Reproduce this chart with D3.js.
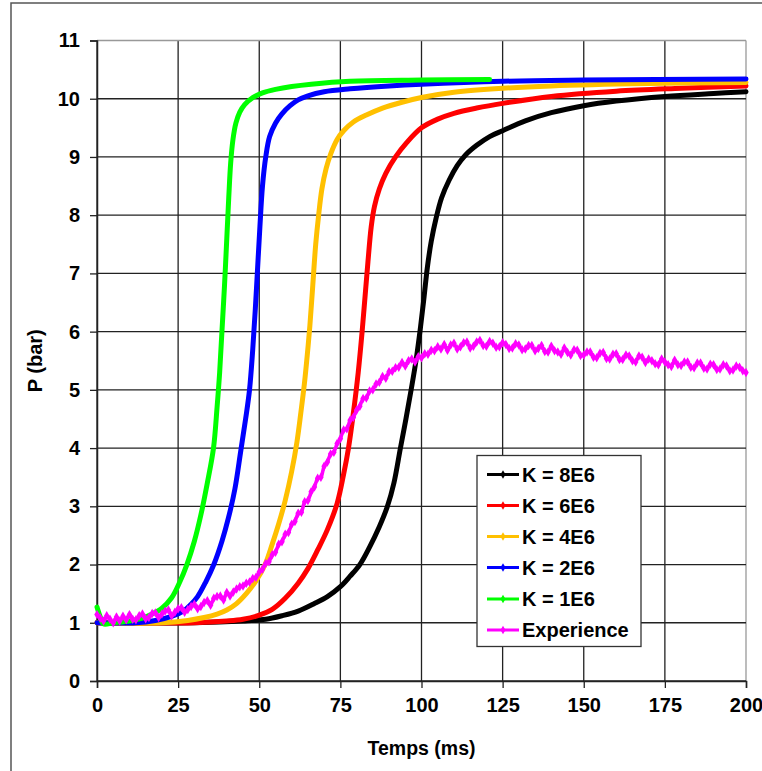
<!DOCTYPE html>
<html>
<head>
<meta charset="utf-8">
<script src="https://cdn.jsdelivr.net/npm/d3@7"></script>
<style>
  html, body { margin: 0; padding: 0; background: #fff; }
  svg { display: block; font-family: "Liberation Sans", Arial, sans-serif; }
</style>
</head>
<body>
<svg id="chart" width="762" height="771"></svg>
<script>
// ---------- DATA ----------
const xTicks = [0, 25, 50, 75, 100, 125, 150, 175, 200];
const yTicks = [0, 1, 2, 3, 4, 5, 6, 7, 8, 9, 10, 11];
const xTitle = "Temps (ms)";
const yTitle = "P (bar)";

const seriesNames = ["K = 8E6", "K = 6E6", "K = 4E6", "K = 2E6", "K = 1E6", "Experience"];
const seriesColors = ["#000000", "#ff0000", "#ffc000", "#0000ff", "#00ff00", "#ff00ff"];

// [time ms, pressure bar]
const k8E6 = [[0,1.0],[30,1.0],[45,1.03],[52,1.06],[57,1.12],[62,1.2],[67,1.33],[71,1.45],[75,1.62],
  [78,1.8],[81,2.0],[84,2.3],[87,2.65],[89.5,3.0],[91.5,3.4],[93.5,4.0],[95.2,4.5],[96.8,5.0],
  [98.3,5.5],[99.7,6.08],[100.8,6.6],[101.8,7.1],[103,7.55],[104.5,7.95],[106.2,8.3],[108.5,8.6],
  [111,8.85],[113.5,9.03],[117,9.2],[121,9.35],[125,9.45],[132,9.62],[140,9.76],[150,9.88],
  [160,9.96],[175,10.04],[190,10.09],[200,10.12]];
const k6E6 = [[0,1.0],[30,1.0],[40,1.03],[45,1.06],[50,1.13],[54,1.23],[58,1.42],[62,1.68],[65,1.93],
  [68,2.25],[71,2.6],[74,3.05],[76,3.55],[77.5,4.0],[79,4.6],[80.5,5.3],[81.7,6.0],[82.6,6.6],
  [83.5,7.2],[84.5,7.8],[85.5,8.15],[87,8.45],[89,8.72],[92,9.0],[95.5,9.25],[100,9.5],[105,9.65],
  [110,9.75],[117,9.84],[125,9.92],[140,10.04],[160,10.13],[180,10.18],[200,10.22]];
const k4E6 = [[0,1.0],[20,1.0],[28,1.04],[33,1.09],[37,1.15],[40,1.22],[43,1.33],[46,1.5],[49,1.72],
  [51.8,2.0],[54,2.35],[56,2.7],[58,3.1],[60,3.6],[61.6,4.1],[62.8,4.6],[63.9,5.1],[64.8,5.6],
  [65.6,6.1],[66.5,6.8],[67.4,7.5],[68.3,8.0],[69.3,8.45],[70.6,8.8],[72,9.05],[74,9.3],[76,9.45],
  [79,9.6],[83,9.72],[88,9.84],[94,9.94],[100,10.02],[110,10.11],[125,10.18],[140,10.22],
  [170,10.26],[200,10.28]];
const k2E6 = [[0,1.0],[12,1.0],[18,1.04],[23,1.11],[26.6,1.2],[29,1.32],[31,1.45],[33.5,1.7],[36,2.0],
  [38.5,2.4],[40.5,2.8],[42.5,3.3],[44.3,3.95],[45.8,4.5],[47,5.0],[48,5.7],[48.8,6.4],[49.5,7.1],
  [50.2,7.8],[51,8.5],[52,9.0],[53.2,9.35],[55,9.58],[57,9.74],[59.5,9.88],[62,9.98],[65,10.05],
  [70,10.12],[78,10.17],[90,10.22],[100,10.25],[125,10.3],[150,10.32],[200,10.34]];
const k1E6 = [[0,1.27],[1,1.1],[2,0.98],[5,1.0],[10,1.03],[14,1.08],[17,1.15],[20,1.25],[23,1.43],
  [25.5,1.7],[27.7,2.0],[30,2.4],[32,2.85],[34,3.4],[35.9,4.0],[37,4.7],[37.8,5.3],[38.5,6.0],
  [39.3,6.8],[40,7.6],[40.6,8.3],[41.2,8.9],[41.9,9.3],[42.8,9.58],[44,9.77],[45.5,9.9],[48,10.02],
  [51,10.1],[55,10.16],[60,10.21],[66,10.25],[78,10.3],[100,10.32],[121,10.33]];
const experience = [
  [0,1.14],[1,1.08],[2,1.03],[3,1.12],[4,1.06],[5,1.0],[6,1.1],[7,1.03],[8,1.11],[9,1.05],
  [10,1.14],[11,1.06],[12,1.05],[13,1.12],[14,1.15],[15,1.07],[16,1.09],[17,1.16],[18,1.17],[19,1.09],
  [20,1.15],[21,1.2],[22,1.22],[23,1.12],[24,1.18],[25,1.24],[26,1.26],[27,1.18],[28,1.23],[29,1.28],
  [30,1.32],[31,1.24],[32,1.28],[33,1.35],[34,1.38],[35,1.3],[36,1.42],[37,1.45],[38,1.46],[39,1.39],
  [40,1.52],[41,1.46],[42,1.53],[43,1.58],[44,1.62],[45,1.63],[46,1.68],[47,1.7],[48,1.76],[49,1.78],
  [50,1.87],[51,1.92],[52,2.02],[53,2.05],[54,2.17],[55,2.21],[56,2.35],[57,2.39],[58,2.52],[59,2.55],
  [60,2.69],[61,2.74],[62,2.88],[63,2.9],[64,3.08],[65,3.1],[66,3.25],[67,3.33],[68,3.48],[69,3.5],
  [70,3.69],[71,3.76],[72,3.9],[73,3.93],[74,4.08],[75,4.16],[76,4.31],[77,4.33],[78,4.48],[79,4.53],
  [80,4.65],[81,4.72],[82,4.85],[83,4.86],[84,4.98],[85,5.0],[86,5.1],[87,5.13],[88,5.23],[89,5.2],
  [90,5.31],[91,5.32],[92,5.38],[93,5.39],[94,5.47],[95,5.41],[96,5.5],[97,5.53],[98,5.48],[99,5.57],
  [100,5.55],[101,5.62],[102,5.61],[103,5.68],[104,5.67],[105,5.74],[106,5.7],[107,5.78],[108,5.68],[109,5.77],
  [110,5.8],[111,5.7],[112,5.74],[113,5.81],[114,5.82],[115,5.72],[116,5.75],[117,5.82],[118,5.85],[119,5.76],
  [120,5.75],[121,5.83],[122,5.8],[123,5.73],[124,5.74],[125,5.81],[126,5.78],[127,5.71],[128,5.72],[129,5.79],
  [130,5.77],[131,5.69],[132,5.7],[133,5.76],[134,5.76],[135,5.67],[136,5.71],[137,5.76],[138,5.66],[139,5.65],
  [140,5.75],[141,5.67],[142,5.65],[143,5.61],[144,5.72],[145,5.64],[146,5.6],[147,5.69],[148,5.68],[149,5.59],
  [150,5.6],[151,5.65],[152,5.65],[153,5.56],[154,5.55],[155,5.63],[156,5.64],[157,5.54],[158,5.53],[159,5.61],
  [160,5.62],[161,5.52],[162,5.52],[163,5.6],[164,5.58],[165,5.5],[166,5.48],[167,5.58],[168,5.56],[169,5.47],
  [170,5.53],[171,5.5],[172,5.45],[173,5.43],[174,5.53],[175,5.48],[176,5.43],[177,5.4],[178,5.51],[179,5.43],
  [180,5.42],[181,5.48],[182,5.48],[183,5.39],[184,5.38],[185,5.46],[186,5.46],[187,5.37],[188,5.36],[189,5.44],
  [190,5.43],[191,5.35],[192,5.36],[193,5.43],[194,5.41],[195,5.33],[196,5.34],[197,5.41],[198,5.39],[199,5.33],
  [200,5.3]];
const seriesData = [k8E6, k6E6, k4E6, k2E6, k1E6, experience];

// ---------- LAYOUT ----------
const svg = d3.select("#chart");
const plot = { left: 97, right: 746, top: 40.5, bottom: 681 };
const x = d3.scaleLinear().domain([0, 200]).range([plot.left, plot.right]);
const y = d3.scaleLinear().domain([0, 11]).range([plot.bottom, plot.top]);

// outer frame
svg.append("rect").attr("x", 11).attr("y", 3).attr("width", 800).attr("height", 800)
  .attr("fill", "none").attr("stroke", "#555").attr("stroke-width", 1.5);

// gridlines
const grid = svg.append("g");
grid.selectAll("line.v").data(xTicks).join("line")
  .attr("x1", d => x(d)).attr("x2", d => x(d)).attr("y1", plot.top).attr("y2", plot.bottom)
  .attr("stroke", d => d === 200 ? "#999" : "#222").attr("stroke-width", 1.3);
grid.selectAll("line.h").data(yTicks).join("line")
  .attr("y1", d => y(d)).attr("y2", d => y(d)).attr("x1", plot.left).attr("x2", plot.right)
  .attr("stroke", d => d === 11 ? "#999" : "#222").attr("stroke-width", 1.3);

// axes
const xAxis = d3.axisBottom(x).tickValues(xTicks).tickSize(7).tickPadding(10).tickFormat(d3.format("d"));
const yAxis = d3.axisLeft(y).tickValues(yTicks).tickSize(7).tickPadding(10).tickFormat(d3.format("d"));
const gx = svg.append("g").attr("transform", `translate(0,${plot.bottom})`).call(xAxis);
const gy = svg.append("g").attr("transform", `translate(${plot.left},0)`).call(yAxis);
[gx, gy].forEach(g => {
  g.select(".domain").attr("stroke", "#222").attr("stroke-width", 1.5);
  g.selectAll(".tick line").attr("stroke", "#222").attr("stroke-width", 1.3);
  g.selectAll(".tick text").attr("fill", "#000").style("font-size", "20px").style("font-weight", "bold")
    .style("font-family", '"Liberation Sans", Arial, sans-serif');
});

// axis titles
svg.append("text").attr("x", (plot.left + plot.right) / 2).attr("y", 755).attr("text-anchor", "middle")
  .style("font-size", "19.5px").style("font-weight", "bold").text(xTitle);
svg.append("text").attr("transform", `translate(42,${(plot.top + plot.bottom) / 2}) rotate(-90)`)
  .attr("text-anchor", "middle").style("font-size", "20px").style("font-weight", "bold").text(yTitle);

// series
const line = d3.line().x(d => x(d[0])).y(d => y(d[1])).curve(d3.curveCatmullRom.alpha(0.5));
const gs = svg.append("g");
seriesData.forEach((data, i) => {
  const isExp = i === 5;
  gs.append("path").datum(data).attr("d", line).attr("fill", "none")
    .attr("stroke", seriesColors[i]).attr("stroke-width", isExp ? 3.5 : 5)
    .attr("stroke-linejoin", "round").attr("stroke-linecap", "round");
  if (isExp) {
    gs.append("g").selectAll("path").data(data).join("path")
      .attr("transform", d => `translate(${x(d[0])},${y(d[1])})`)
      .attr("d", d3.symbol(d3.symbolDiamond, 26)).attr("fill", seriesColors[i]);
  }
});

// legend
const lg = svg.append("g");
lg.append("rect").attr("x", 477).attr("y", 455.5).attr("width", 164).attr("height", 191)
  .attr("fill", "#fff").attr("stroke", "#333").attr("stroke-width", 1.3);
const legendRows = [474.5, 505.5, 536.5, 567.5, 599, 630];
seriesNames.forEach((name, i) => {
  const cy = legendRows[i];
  lg.append("line").attr("x1", 487).attr("x2", 519).attr("y1", cy).attr("y2", cy)
    .attr("stroke", seriesColors[i]).attr("stroke-width", 3);
  lg.append("path").attr("transform", `translate(503,${cy})`)
    .attr("d", d3.symbol(d3.symbolDiamond, 22)).attr("fill", seriesColors[i]);
  lg.append("text").attr("x", 522).attr("y", cy).attr("dy", "0.36em")
    .style("font-size", "20px").style("font-weight", "bold").text(name);
});
</script>
</body>
</html>
